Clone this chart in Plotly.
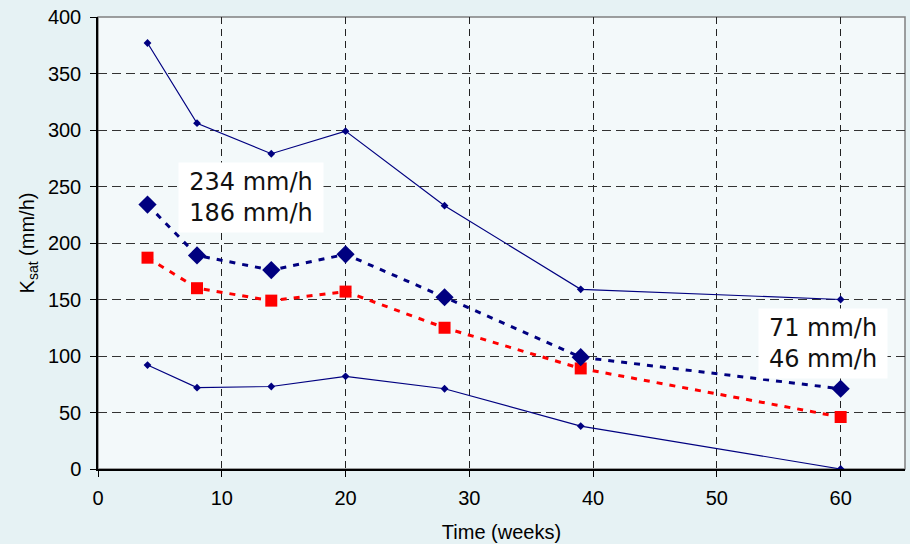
import plotly.graph_objects as go

weeks = [4, 8, 14, 20, 28, 39, 60]
upper = [377, 306, 279, 299, 233, 159, 150]
mean_blue = [234, 189, 176, 190, 152, 99, 71]
mean_red = [187, 160, 149, 157, 125, 89, 46]
lower = [92, 72, 73, 82, 71, 38, 0]

x_ticks = [0, 10, 20, 30, 40, 50, 60]
y_ticks = [0, 50, 100, 150, 200, 250, 300, 350, 400]

label_start = "234 mm/h<br>186 mm/h"
label_end = "71 mm/h<br>46 mm/h"

NAVY = "#000080"
RED = "#ff0000"

fig = go.Figure()

for ys in (upper, lower):
    fig.add_trace(go.Scatter(
        x=weeks, y=ys, mode="lines+markers",
        line=dict(color=NAVY, width=1.2),
        marker=dict(symbol="diamond", size=6, color=NAVY),
        showlegend=False, hoverinfo="x+y"))

fig.add_trace(go.Scatter(
    x=weeks, y=mean_red, mode="lines+markers",
    line=dict(color=RED, width=3, dash="6px,7px"),
    marker=dict(symbol="square", size=12, color=RED),
    showlegend=False))

fig.add_trace(go.Scatter(
    x=weeks, y=mean_blue, mode="lines+markers",
    line=dict(color=NAVY, width=3, dash="6px,7px"),
    marker=dict(symbol="diamond", size=14, color=NAVY),
    showlegend=False))

ann_font = dict(family="DejaVu Sans", size=24, color="#111111")
fig.add_annotation(x=12.4, y=240, xref="x", yref="y", text=label_start,
                   showarrow=False, bgcolor="white", borderpad=4,
                   width=136, height=61, align="center", font=ann_font)
fig.add_annotation(x=58.6, y=111, xref="x", yref="y", text=label_end,
                   showarrow=False, bgcolor="white", borderpad=4,
                   width=120, height=61, align="center", font=ann_font)

# gray frame (top/right)
fig.add_shape(type="rect", xref="paper", yref="paper", x0=0, y0=0, x1=1, y1=1,
              line=dict(color="#808080", width=1.5), layer="below")

axis_font = dict(family="Liberation Sans", size=20, color="black")

fig.update_xaxes(
    range=[0, 65.2], tickvals=x_ticks, ticktext=[str(v) for v in x_ticks],
    showgrid=True, gridcolor="#222222", gridwidth=1, griddash="7px,5px",
    showline=True, linecolor="black", linewidth=1.5,
    ticks="outside", ticklen=6, tickcolor="black", tickwidth=1,
    ticklabelstandoff=4,
    zeroline=False, tickfont=axis_font, automargin=False,
    title=dict(text="Time (weeks)", font=axis_font, standoff=17))
fig.update_yaxes(
    range=[0, 400], tickvals=y_ticks, ticktext=[str(v) for v in y_ticks],
    showgrid=True, gridcolor="#333333", gridwidth=1, griddash="9px,5px",
    showline=True, linecolor="black", linewidth=1.5,
    ticks="outside", ticklen=6, tickcolor="black", tickwidth=1,
    ticklabelstandoff=5,
    zeroline=False, tickfont=axis_font, automargin=False,
    title=dict(text="K<sub>sat</sub> (mm/h)", font=axis_font, standoff=8))

fig.update_layout(
    width=910, height=544,
    margin=dict(l=98, r=5, t=17, b=75),
    paper_bgcolor="#e6f2f4", plot_bgcolor="#f3f9fa",
    font=axis_font, showlegend=False)

fig.write_html("out.html", config={"displayModeBar": False},
               post_script="document.body.style.margin='0px';document.body.style.overflow='hidden';")
